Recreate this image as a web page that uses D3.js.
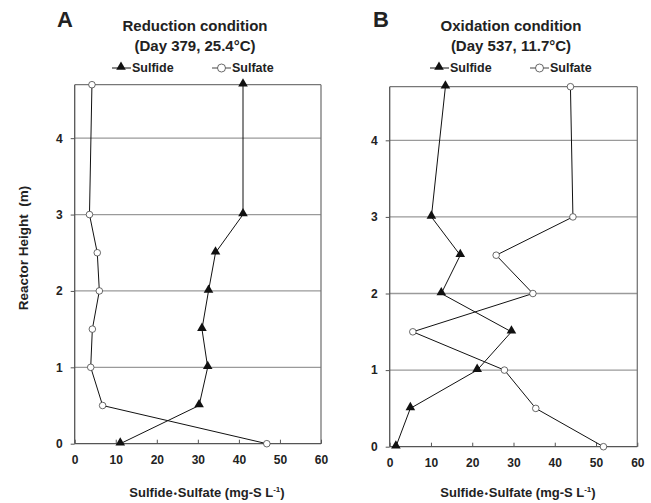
<!DOCTYPE html>
<html><head><meta charset="utf-8">
<script src="https://cdn.jsdelivr.net/npm/d3@7"></script>
<style>
body{margin:0;background:#fff;}
text{font-family:"Liberation Sans",Arial,sans-serif;font-weight:bold;fill:#222;}
</style></head>
<body>
<svg id="c" width="651" height="503"></svg>
<script>
const heights = [0, 0.5, 1, 1.5, 2, 2.5, 3, 4.7];
const sulfideA = [11.1, 30.3, 32.4, 31.0, 32.6, 34.3, 41.0, 41.0];
const sulfateA = [46.8, 6.8, 3.9, 4.3, 6.0, 5.5, 3.6, 4.2];
const sulfideB = [1.5, 5.0, 21.2, 29.5, 12.5, 17.1, 10.1, 13.5];
const sulfateB = [51.8, 35.4, 27.8, 5.6, 34.7, 25.8, 44.4, 43.8];
const xTicks = [0, 10, 20, 30, 40, 50, 60];
const yTicks = [0, 1, 2, 3, 4];
const panelLetters = ["A", "B"];
const titles1 = ["Reduction condition", "Oxidation condition"];
const titles2 = ["(Day 379, 25.4°C)", "(Day 537, 11.7°C)"];

const svg = d3.select("#c");
const panels = [
  {x0:74.7, x1:321, y0:443.7, yTop:84.7, sulf:sulfideA, sulfa:sulfateA, letterX:57, titleX:195, legX:112, labX:207},
  {x0:389.7, x1:637.3, y0:446.7, yTop:86.7, sulf:sulfideB, sulfa:sulfateB, letterX:373, titleX:511, legX:430, labX:518}
];
const tri = d3.symbol().type(d3.symbolTriangle).size(40);

panels.forEach((p, i) => {
  const x = d3.scaleLinear().domain([0, 60]).range([p.x0, p.x1]);
  const y = d3.scaleLinear().domain([0, 4.7]).range([p.y0, p.yTop]);
  const g = svg.append("g");
  g.selectAll(".grid").data(yTicks.filter(d => d > 0)).enter().append("line")
    .attr("x1", x(0)).attr("x2", x(60)).attr("y1", d => y(d)).attr("y2", d => y(d))
    .attr("stroke", "#9a9a9a").attr("stroke-width", 1.3);
  g.append("line").attr("x1", x(0)).attr("x2", x(60)).attr("y1", y(4.7)).attr("y2", y(4.7)).attr("stroke", "#777").attr("stroke-width", 1.3);
  g.append("line").attr("x1", x(60)).attr("x2", x(60)).attr("y1", y(4.7)).attr("y2", y(0)).attr("stroke", "#777").attr("stroke-width", 1.3);
  const xa = g.append("g").attr("transform", `translate(0,${y(0)})`)
    .call(d3.axisBottom(x).tickValues(xTicks).tickSize(-4).tickPadding(12).tickFormat(d3.format("d")));
  const ya = g.append("g").attr("transform", `translate(${x(0)},0)`)
    .call(d3.axisLeft(y).tickValues(yTicks).tickSize(4).tickPadding(8).tickFormat(d3.format("d")));
  [xa, ya].forEach(a => {
    a.select(".domain").attr("stroke", "#555").attr("stroke-width", 1.3);
    a.selectAll(".tick line").attr("stroke", "#555");
    a.selectAll("text").style("font-size", "12px").style("font-family", "'Liberation Sans',Arial,sans-serif").style("font-weight", "bold").attr("fill", "#222");
  });
  ya.select(".domain").attr("d", `M0,${y(0)}V${y(4.7)}`);
  xa.select(".domain").attr("d", `M${x(0)},0H${x(60)}`);
  const line = arr => d3.line().x((d, k) => x(arr[k])).y(d => y(d))(heights);
  g.append("path").attr("d", line(p.sulf)).attr("fill", "none").attr("stroke", "#111").attr("stroke-width", 1);
  g.append("path").attr("d", line(p.sulfa)).attr("fill", "none").attr("stroke", "#111").attr("stroke-width", 1);
  g.selectAll(".tri").data(heights).enter().append("path")
    .attr("d", tri).attr("transform", (d, k) => `translate(${x(p.sulf[k])},${y(d) - 1})`).attr("fill", "#111");
  g.selectAll(".circ").data(heights).enter().append("circle")
    .attr("cx", (d, k) => x(p.sulfa[k])).attr("cy", d => y(d)).attr("r", 3.3)
    .attr("fill", "#fff").attr("stroke", "#444").attr("stroke-width", 0.8);
  svg.append("text").attr("x", p.letterX).attr("y", 27).text(panelLetters[i]).style("font-size", "22px").attr("fill", "#111");
  svg.append("text").attr("x", p.titleX).attr("y", 31).attr("text-anchor", "middle").text(titles1[i]).style("font-size", "15px");
  svg.append("text").attr("x", p.titleX).attr("y", 50.5).attr("text-anchor", "middle").text(titles2[i]).style("font-size", "15px");
  const ly = 68;
  svg.append("line").attr("x1", p.legX).attr("x2", p.legX + 19).attr("y1", ly).attr("y2", ly).attr("stroke", "#111");
  svg.append("path").attr("d", tri).attr("transform", `translate(${p.legX + 9},${ly - 1})`).attr("fill", "#111");
  svg.append("text").attr("x", p.legX + 20).attr("y", ly + 4).text("Sulfide").style("font-size", "12.5px");
  svg.append("line").attr("x1", p.legX + 100).attr("x2", p.legX + 119).attr("y1", ly).attr("y2", ly).attr("stroke", "#444");
  svg.append("circle").attr("cx", p.legX + 109.5).attr("cy", ly).attr("r", 4).attr("fill", "#fff").attr("stroke", "#444").attr("stroke-width", 0.8);
  svg.append("text").attr("x", p.legX + 120).attr("y", ly + 4).text("Sulfate").style("font-size", "12.5px");
  const xl = svg.append("text").attr("x", p.labX).attr("y", 497).attr("text-anchor", "middle").style("font-size", "13px");
  xl.append("tspan").text("Sulfide");
  xl.append("tspan").text("•").style("font-size", "9px").attr("dx", 1);
  xl.append("tspan").text("Sulfate (mg-S L").attr("dx", 1);
  xl.append("tspan").text("-1").attr("dy", -5).style("font-size", "8px");
  xl.append("tspan").text(")").attr("dy", 5);
});
svg.append("text").attr("transform", "translate(28,248) rotate(-90)").attr("text-anchor", "middle")
  .text("Reactor Height  (m)").style("font-size", "13.5px").attr("xml:space", "preserve");
</script>
</body></html>
